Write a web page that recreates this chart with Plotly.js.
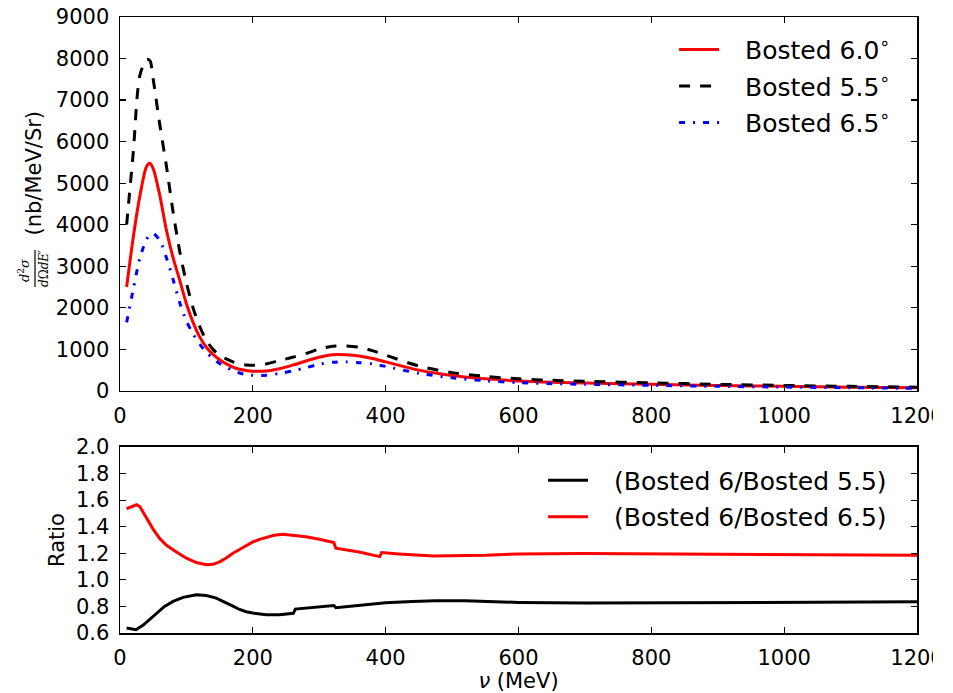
<!DOCTYPE html>
<html>
<head>
<meta charset="utf-8">
<script src="https://cdn.plot.ly/plotly-3.0.1.min.js"></script>
<style>
  html, body { margin: 0; padding: 0; background: #fff; }
  #chart { width: 933px; height: 693px; }
</style>
</head>
<body>
<div id="chart"></div>
<script>
// ---- Data ----
const nu = [10,20,30,40,45,50,60,70,80,90,100,110,120,130,140,150,160,170,180,190,200,220,240,260,280,300,320,340,360,380,400,450,500,550,600,650,700,800,900,1000,1100,1200];
const bosted60 = [2500,3700,4700,5400,5480,5350,4700,3860,3200,2660,2100,1650,1300,1050,880,750,650,575,520,490,475,480,535,620,720,810,870,870,840,780,700,500,370,290,240,210,190,160,130,110,90,75];
const bosted55 = [4000,5750,7600,7980,7950,7500,6400,5400,4300,3350,2600,2000,1550,1220,1000,860,770,700,650,625,615,650,730,810,900,1010,1075,1080,1050,970,860,600,440,350,290,255,230,195,158,132,110,90];
const bosted65 = [1650,2450,3200,3650,3750,3790,3620,3200,2680,2120,1680,1370,1130,930,780,660,570,490,430,390,375,375,420,480,560,640,690,700,680,650,590,425,315,245,200,175,158,135,110,93,76,63];

const ratio1Nu = [10,24,35,45,55,67,80,95,115,130,145,160,170,180,190,200,210,220,240,261,264,280,300,322,325,340,370,400,440,475,520,600,700,800,900,1000,1100,1200];
const ratio1 = [0.638,0.625,0.66,0.705,0.75,0.80,0.838,0.868,0.888,0.882,0.863,0.83,0.802,0.777,0.76,0.75,0.743,0.738,0.737,0.748,0.78,0.787,0.795,0.807,0.79,0.798,0.815,0.828,0.838,0.843,0.842,0.83,0.825,0.828,0.83,0.832,0.834,0.835];
const ratio2Nu = [10,18,25,30,40,50,60,70,85,100,115,130,140,150,160,170,180,190,200,210,220,232,245,265,280,300,322,325,340,360,391,394,420,472,550,600,697,800,900,1000,1100,1200];
const ratio2 = [1.535,1.55,1.565,1.55,1.46,1.38,1.31,1.26,1.21,1.163,1.13,1.113,1.117,1.135,1.165,1.2,1.228,1.258,1.285,1.305,1.32,1.335,1.343,1.335,1.325,1.305,1.28,1.238,1.225,1.21,1.175,1.205,1.195,1.18,1.185,1.195,1.198,1.195,1.19,1.188,1.186,1.185];

const xTicks = [0,200,400,600,800,1000,1200];
const yTicksTop = [0,1000,2000,3000,4000,5000,6000,7000,8000,9000];
const yTicksBottom = [0.6,0.8,1.0,1.2,1.4,1.6,1.8,2.0];

const FONT = 'DejaVu Sans, sans-serif';
const MATH = 'DejaVu Serif, serif';
const PAD = '<span style="font-size:22px">\u00a0\u00a0\u00a0</span>';

const traces = [
  {x: nu, y: bosted60, name: PAD + 'Bosted 6.0<sup>∘</sup>', mode: 'lines', line: {color: '#ff0000', width: 3, shape: 'spline', smoothing: 0.8}, xaxis: 'x', yaxis: 'y', legend: 'legend', legendgroup: 'a'},
  {x: nu, y: bosted55, name: PAD + 'Bosted 5.5<sup>∘</sup>', mode: 'lines', line: {color: '#000000', width: 3, dash: '11px,10px', shape: 'spline', smoothing: 0.8}, xaxis: 'x', yaxis: 'y', legend: 'legend', legendgroup: 'b'},
  {x: nu, y: bosted65, name: PAD + 'Bosted 6.5<sup>∘</sup>', mode: 'lines', line: {color: '#0000ff', width: 3, dash: '6px,8px,2px,8px', shape: 'spline', smoothing: 0.8}, xaxis: 'x', yaxis: 'y', legend: 'legend', legendgroup: 'c'},
  {x: ratio1Nu, y: ratio1, name: PAD + '(Bosted 6/Bosted 5.5)', mode: 'lines', line: {color: '#000000', width: 3}, xaxis: 'x2', yaxis: 'y2', legend: 'legend2', legendgroup: 'd'},
  {x: ratio2Nu, y: ratio2, name: PAD + '(Bosted 6/Bosted 6.5)', mode: 'lines', line: {color: '#ff0000', width: 3}, xaxis: 'x2', yaxis: 'y2', legend: 'legend2', legendgroup: 'e'}
];

const axisCommon = {
  showline: true, linecolor: '#000', linewidth: 1.5, mirror: 'ticks',
  ticks: 'inside', ticklen: 6, tickwidth: 1.2, tickcolor: '#000',
  showgrid: false, zeroline: false,
  tickfont: {family: FONT, size: 21, color: '#000'},
  ticklabelstandoff: 5, ticklabeloverflow: 'allow'
};

// helpers to place text in paper coordinates from pixel positions
const L = 120, W = 797, B = 633, H = 616;
const px = v => (v - L) / W;
const py = v => (B - v) / H;

const layout = {
  width: 933, height: 693,
  margin: {l: 120, r: 16, t: 17, b: 60},
  paper_bgcolor: '#fff', plot_bgcolor: '#fff',
  font: {family: FONT, size: 21, color: '#000'},
  xaxis: Object.assign({}, axisCommon, {domain: [0, 1], range: [0, 1200], tickvals: xTicks, anchor: 'y'}),
  yaxis: Object.assign({}, axisCommon, {domain: [0.393, 1], range: [0, 9000], tickvals: yTicksTop, anchor: 'x'}),
  xaxis2: Object.assign({}, axisCommon, {domain: [0, 1], range: [0, 1200], tickvals: xTicks, anchor: 'y2',
    title: {text: '<i>ν</i> (MeV)', font: {family: FONT, size: 21}, standoff: 10}}),
  yaxis2: Object.assign({}, axisCommon, {domain: [0, 0.302], range: [0.6, 2.0], tickvals: yTicksBottom, tickformat: '.1f', anchor: 'x2',
    title: {text: 'Ratio', font: {family: FONT, size: 21}, standoff: 5}}),
  legend: {x: 0.6952, y: 0.984, xanchor: 'left', yanchor: 'top', bgcolor: 'rgba(0,0,0,0)', borderwidth: 0,
    font: {family: FONT, size: 25}, tracegroupgap: 1, itemwidth: 40},
  legend2: {x: 0.5308, y: 0.285, xanchor: 'left', yanchor: 'top', bgcolor: 'rgba(0,0,0,0)', borderwidth: 0,
    font: {family: FONT, size: 25}, tracegroupgap: 1, itemwidth: 40},
  showlegend: true,
  annotations: [
    {xref: 'paper', yref: 'paper', x: px(33), y: py(173.5), text: '(nb/MeV/Sr)', textangle: -90, showarrow: false,
      xanchor: 'center', yanchor: 'middle', font: {family: FONT, size: 21, color: '#000'}},
    {xref: 'paper', yref: 'paper', x: px(24), y: py(270), text: '<i>d</i><sup>2</sup><i>σ</i>', textangle: -90, showarrow: false,
      xanchor: 'center', yanchor: 'middle', font: {family: MATH, size: 13, color: '#000'}},
    {xref: 'paper', yref: 'paper', x: px(43.5), y: py(268.5), text: '<i>d</i>Ω<i>dE′</i>', textangle: -90, showarrow: false,
      xanchor: 'center', yanchor: 'middle', font: {family: MATH, size: 12, color: '#000'}}
  ],
  shapes: [
    {type: 'line', xref: 'paper', yref: 'paper', x0: px(35), x1: px(35), y0: py(250), y1: py(287), line: {color: '#000', width: 1.2}}
  ]
};

Plotly.newPlot('chart', traces, layout, {staticPlot: true, displayModeBar: false});
</script>
</body>
</html>
